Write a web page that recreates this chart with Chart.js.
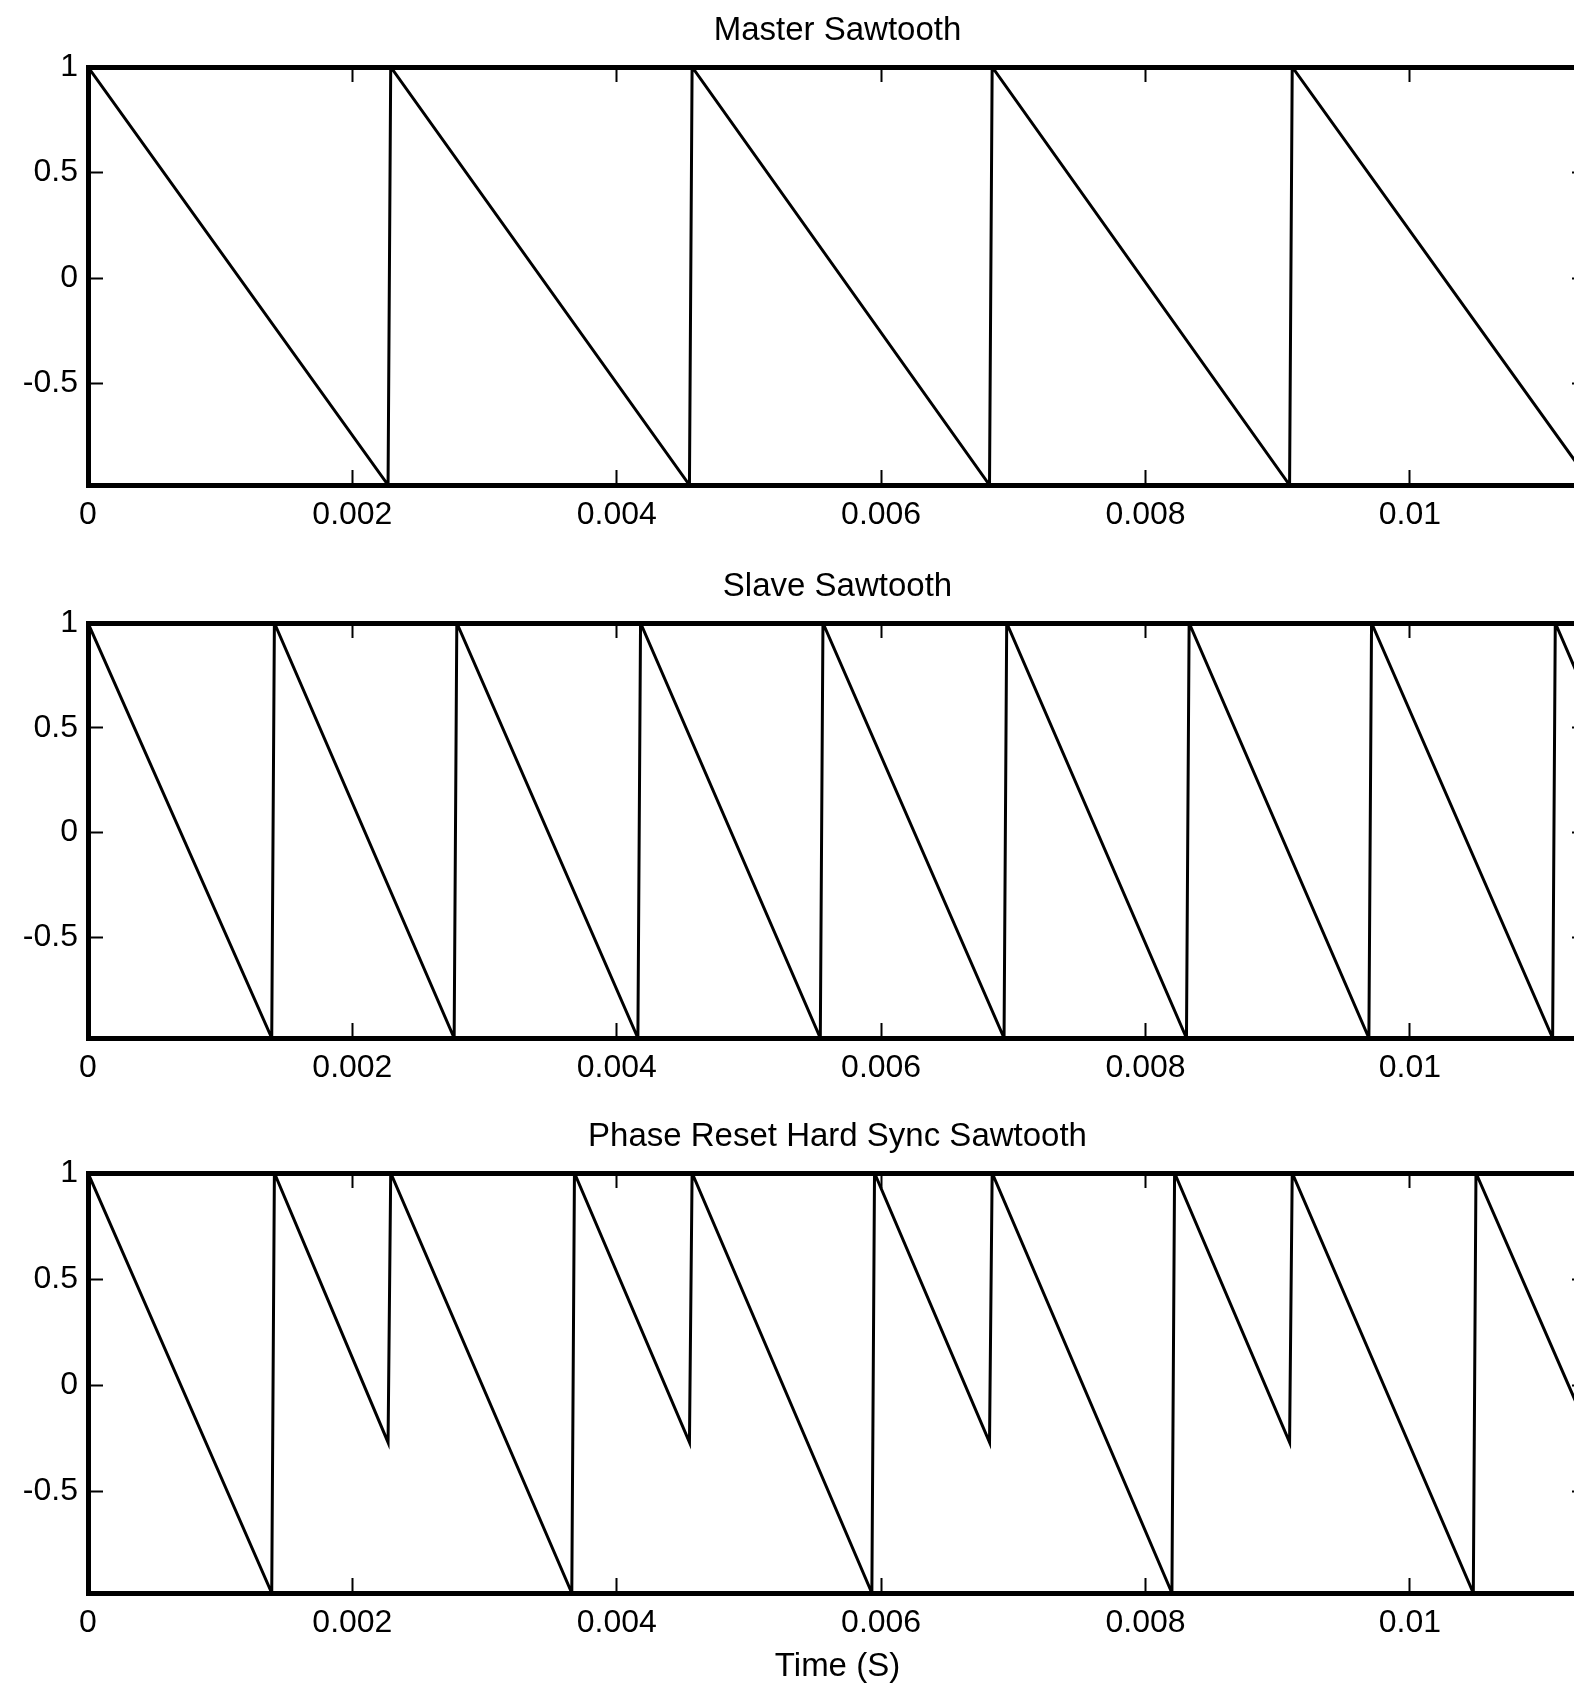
<!DOCTYPE html>
<html>
<head>
<meta charset="utf-8">
<title>Hard sync sawtooth</title>
<script src="https://cdn.jsdelivr.net/npm/chart.js@4.4.1/dist/chart.umd.min.js"></script>
<style>
html, body { margin: 0; padding: 0; background: #fff; overflow: hidden; width: 1574px; height: 1684px; }
canvas { position: absolute; left: 0; }
</style>
</head>
<body>
<canvas id="panel-0"></canvas>
<canvas id="panel-1"></canvas>
<canvas id="panel-2"></canvas>
<script>
'use strict';
// tick labels and titles
var xTicks = [0, 0.002, 0.004, 0.006, 0.008, 0.01];
var yTicks = [-0.5, 0, 0.5, 1];
var titles = ['Master Sawtooth', 'Slave Sawtooth', 'Phase Reset Hard Sync Sawtooth'];
var xLabel = 'Time (S)';

// corner points of each wave (seconds, amplitude)
var masterTime = [0, 0.00227, 0.00229, 0.00455, 0.00457, 0.00682, 0.00684, 0.00909, 0.00911, 0.01134];
var masterValue = [1, -0.98, 1, -0.98, 1, -0.98, 1, -0.98, 1, -0.945];

var slaveTime = [0, 0.00139, 0.00141, 0.00277, 0.00279, 0.00416, 0.00418, 0.00554, 0.00556,
  0.00693, 0.00695, 0.00831, 0.00833, 0.00969, 0.00971, 0.01108, 0.01110, 0.01134];
var slaveValue = [1, -0.98, 1, -0.98, 1, -0.98, 1, -0.98, 1,
  -0.98, 1, -0.98, 1, -0.98, 1, -0.98, 1, 0.65];

var syncTime = [0, 0.00139, 0.00141, 0.00227, 0.00229, 0.00366, 0.00368, 0.00455, 0.00457,
  0.00593, 0.00595, 0.00682, 0.00684, 0.00820, 0.00822, 0.00909, 0.00911, 0.01048, 0.01050, 0.01134];
var syncValue = [1, -0.98, 1, -0.27, 1, -0.98, 1, -0.27, 1,
  -0.98, 1, -0.27, 1, -0.98, 1, -0.27, 1, -0.98, 1, -0.2];

var xMin = 0, xMax = 0.01134;
var yMin = -0.98, yMax = 1;

var waves = [
  [masterTime, masterValue],
  [slaveTime, slaveValue],
  [syncTime, syncValue]
];

// layout (page pixels)
var canvasWidth = 1640;
var plotLeft = 88, plotRight = 1587;
var boxes = [
  {top: 0, plotTop: 67, plotBottom: 485, bottom: 550},
  {top: 550, plotTop: 623, plotBottom: 1038, bottom: 1100},
  {top: 1100, plotTop: 1173, plotBottom: 1593, bottom: 1700}
];
var fontFamily = '"Liberation Sans", Arial, Helvetica, sans-serif';
var textColor = '#000';
var tickFont = {family: fontFamily, size: 32};
var titleFont = {family: fontFamily, size: 33};

function toPoints(times, values) {
  let res = [];
  for (let i = 0; i < times.length; i++) {
    res.push({x: times[i], y: values[i]});
  }
  return res;
}

function tickSetter(list) {
  return function (scale) {
    scale.ticks = list.map(v => ({value: v}));
  };
}

var gridOpts = {
  drawOnChartArea: false,
  drawTicks: true,
  tickLength: -15,
  tickWidth: 2,
  tickColor: '#000'
};
var borderOpts = {display: true, color: '#000', width: 5};

function drawPanel(i) {
  let box = boxes[i];
  let canvas = document.getElementById('panel-' + i);
  let h = box.bottom - box.top;
  canvas.width = canvasWidth;
  canvas.height = h;
  canvas.style.width = canvasWidth + 'px';
  canvas.style.height = h + 'px';
  canvas.style.top = box.top + 'px';

  let titleCenter = box.plotTop - box.top - 36;

  // eslint-disable-next-line no-undef
  new Chart(canvas.getContext('2d'), {
    type: 'line',
    data: {
      datasets: [{
        data: toPoints(waves[i][0], waves[i][1]),
        borderColor: '#000',
        borderWidth: 3,
        pointRadius: 0,
        tension: 0,
        fill: false
      }]
    },
    options: {
      responsive: false,
      animation: false,
      layout: {padding: 0},
      plugins: {legend: {display: false}, tooltip: {enabled: false}},
      scales: {
        x: {
          type: 'linear', position: 'bottom', min: xMin, max: xMax,
          afterBuildTicks: tickSetter(xTicks),
          afterFit: s => { s.height = box.bottom - box.plotBottom; },
          ticks: {padding: 26, color: textColor, font: tickFont, maxRotation: 0, autoSkip: false,
            callback: v => String(v)},
          grid: gridOpts,
          border: borderOpts,
          title: {display: i === 2, text: xLabel, color: textColor, font: titleFont,
            padding: {top: 0, bottom: 13}}
        },
        x2: {
          type: 'linear', position: 'top', min: xMin, max: xMax,
          afterBuildTicks: tickSetter(xTicks),
          afterFit: s => { s.height = box.plotTop - box.top; },
          ticks: {display: false},
          grid: gridOpts,
          border: borderOpts,
          title: {display: true, text: titles[i], color: textColor, font: titleFont,
            padding: {top: titleCenter - 19.8, bottom: 0}}
        },
        y: {
          type: 'linear', position: 'left', min: yMin, max: yMax,
          afterBuildTicks: tickSetter(yTicks),
          afterFit: s => { s.width = plotLeft; },
          ticks: {padding: 25, color: textColor, font: tickFont, callback: v => String(v)},
          grid: gridOpts,
          border: borderOpts
        },
        y2: {
          type: 'linear', position: 'right', min: yMin, max: yMax,
          afterBuildTicks: tickSetter(yTicks),
          afterFit: s => { s.width = canvasWidth - plotRight; },
          ticks: {display: false},
          grid: gridOpts,
          border: borderOpts
        }
      }
    }
  });
}

for (let i = 0; i < boxes.length; i++) {
  drawPanel(i);
}
</script>
</body>
</html>
